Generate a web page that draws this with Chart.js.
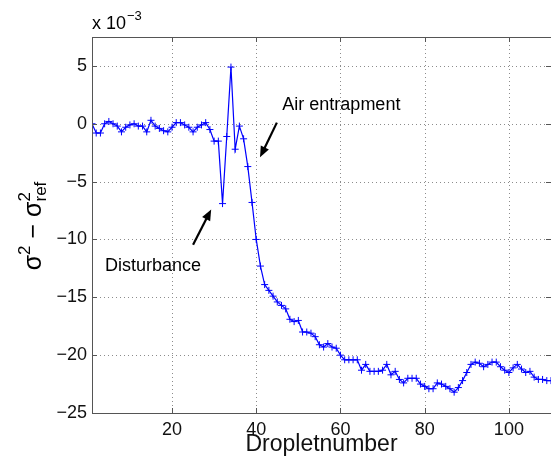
<!DOCTYPE html>
<html>
<head>
<meta charset="utf-8">
<script src="https://cdn.jsdelivr.net/npm/chart.js@4.4.1/dist/chart.umd.min.js"></script>
<style>
  html, body { margin: 0; padding: 0; background: #fff; overflow: hidden; }
  #wrap { width: 556px; height: 458px; }
</style>
</head>
<body>
<div id="wrap"><canvas id="chart" width="556" height="458"></canvas></div>
<script>
// droplet number 1..110, deviation in units of 1e-3
const dropletNumbers = [];
for (let i = 1; i <= 110; i++) dropletNumbers.push(i);

const sigmaDiff = [
    0, -0.8, -0.8, 0, 0.2, 0, -0.2, -0.7, -0.3, -0.1,
    0, -0.2, -0.2, -0.7, 0.3, -0.2, -0.4, -0.6, -0.7, -0.3,
    0.1, 0.1, -0.1, -0.3, -0.7, -0.3, -0.1, 0.1, -0.5, -1.5,
    -1.5, -6.9, -1.1, 4.9, -2.2, -0.2, -1.3, -3.7, -6.8, -10.0,
    -12.3, -13.9, -14.4, -14.9, -15.4, -15.7, -16.0, -16.9, -17.1, -17.0,
    -18.0, -18.0, -18.1, -18.4, -19.1, -19.3, -19.0, -19.3, -19.4, -20.0,
    -20.4, -20.4, -20.4, -20.4, -21.3, -20.8, -21.4, -21.4, -21.4, -21.3,
    -20.8, -21.7, -21.4, -22.1, -22.4, -22.0, -22.0, -22.0, -22.5, -22.7,
    -22.9, -22.9, -22.4, -22.5, -22.7, -22.9, -23.2, -22.8, -22.2, -21.5,
    -20.8, -20.6, -20.7, -21.0, -20.8, -20.6, -20.6, -21.0, -21.3, -21.5,
    -21.1, -20.8, -21.2, -21.5, -21.4, -21.9, -22.1, -22.1, -22.2, -22.2
];

const xTicks = [20, 40, 60, 80, 100];
const yTicks = [-25, -20, -15, -10, -5, 0, 5];

const FONT = '"Liberation Sans", Arial, sans-serif';

// arrow + label annotations, in data coordinates
const notes = [
    { text: 'Air entrapment', tx: 46.2, ty: 1.65, from: [44.9, 0.1], to: [40.9, -2.9] },
    { text: 'Disturbance', tx: 4.1, ty: -12.3, from: [25.0, -10.45], to: [29.3, -7.4] }
];

function drawArrow(c, x1, y1, x2, y2) {
    const ang = Math.atan2(y2 - y1, x2 - x1);
    const len = 11, wid = 4.5;
    c.beginPath();
    c.moveTo(x1, y1);
    c.lineTo(x2 - Math.cos(ang) * len * 0.8, y2 - Math.sin(ang) * len * 0.8);
    c.lineWidth = 2.2;
    c.strokeStyle = '#000';
    c.stroke();
    c.beginPath();
    c.moveTo(x2, y2);
    c.lineTo(x2 - Math.cos(ang) * len + Math.sin(ang) * wid, y2 - Math.sin(ang) * len - Math.cos(ang) * wid);
    c.lineTo(x2 - Math.cos(ang) * len - Math.sin(ang) * wid, y2 - Math.sin(ang) * len + Math.cos(ang) * wid);
    c.closePath();
    c.fillStyle = '#000';
    c.fill();
}

const decorPlugin = {
    id: 'decor',
    beforeDatasetsDraw(chart) {
        // dotted grid, drawn by hand so the dots come out clean
        const c = chart.ctx;
        const a = chart.chartArea;
        const xs = chart.scales.x, ys = chart.scales.y;
        c.save();
        c.strokeStyle = '#8c8c8c';
        c.lineWidth = 1;
        c.setLineDash([1, 3]);
        c.beginPath();
        xTicks.forEach(t => {
            const px = Math.round(xs.getPixelForValue(t)) + 0.5;
            c.moveTo(px, a.top); c.lineTo(px, a.bottom);
        });
        yTicks.forEach(t => {
            if (t === -25) return;
            const py = Math.round(ys.getPixelForValue(t)) + 0.5;
            c.moveTo(a.left, py); c.lineTo(a.right, py);
        });
        c.stroke();
        c.restore();
    },
    afterDatasetsDraw(chart) {
        const c = chart.ctx;
        const a = chart.chartArea;
        const xs = chart.scales.x, ys = chart.scales.y;
        c.save();

        // box + inward ticks (matlab style)
        c.strokeStyle = '#555';
        c.lineWidth = 1;
        c.strokeRect(a.left + 0.5, a.top + 0.5, a.right - a.left, a.bottom - a.top);
        c.beginPath();
        xTicks.forEach(t => {
            const px = Math.round(xs.getPixelForValue(t)) + 0.5;
            c.moveTo(px, a.bottom); c.lineTo(px, a.bottom - 5);
            c.moveTo(px, a.top); c.lineTo(px, a.top + 5);
        });
        yTicks.forEach(t => {
            const py = Math.round(ys.getPixelForValue(t)) + 0.5;
            c.moveTo(a.left, py); c.lineTo(a.left + 5, py);
            c.moveTo(a.right, py); c.lineTo(a.right - 5, py);
        });
        c.stroke();

        // annotations
        c.fillStyle = '#000';
        c.font = '18px ' + FONT;
        c.textBaseline = 'middle';
        c.textAlign = 'left';
        notes.forEach(n => {
            c.fillText(n.text, xs.getPixelForValue(n.tx), ys.getPixelForValue(n.ty));
            drawArrow(c,
                xs.getPixelForValue(n.from[0]), ys.getPixelForValue(n.from[1]),
                xs.getPixelForValue(n.to[0]), ys.getPixelForValue(n.to[1]));
        });

        // exponent label above the axis
        c.textBaseline = 'alphabetic';
        c.font = '18px ' + FONT;
        c.fillText('x 10', a.left, a.top - 8);
        const w = c.measureText('x 10').width;
        c.font = '13px ' + FONT;
        c.fillText('\u22123', a.left + w + 1, a.top - 17);

        // y axis title: sigma^2 - sigma^2_ref
        c.translate(41, 226);
        c.rotate(-Math.PI / 2);
        const big = '25px ' + FONT, small = '17px ' + FONT;
        const parts = [
            { t: '\u03c3', f: big, dy: 0 },
            { t: '2', f: small, dy: -11 },
            { t: ' \u2212 \u03c3', f: big, dy: 0 },
            { t: '2', f: small, dy: -11, keep: true },
            { t: 'ref', f: small, dy: 5 }
        ];
        let total = 0, widths = [];
        parts.forEach((p, i) => {
            c.font = p.f;
            widths[i] = c.measureText(p.t).width;
            if (!p.keep) total += widths[i];
        });
        let x = -total / 2;
        parts.forEach((p, i) => {
            c.font = p.f;
            c.fillText(p.t, x, p.dy);
            if (!p.keep) x += widths[i];
        });
        c.restore();
    }
};

const ctx = document.getElementById('chart').getContext('2d');
const chart = new Chart(ctx, {
    type: 'line',
    data: {
        labels: dropletNumbers,
        datasets: [{
            data: dropletNumbers.map((n, i) => ({ x: n, y: sigmaDiff[i] })),
            borderColor: '#0000ff',
            backgroundColor: '#0000ff',
            borderWidth: 1.2,
            pointStyle: 'cross',
            pointRadius: 3.5,
            pointBorderWidth: 1,
            pointBorderColor: '#0000ff',
            tension: 0
        }]
    },
    options: {
        responsive: false,
        animation: false,
        layout: { padding: { top: 37, right: 3.5, left: 0, bottom: 0 } },
        plugins: { legend: { display: false }, tooltip: { enabled: false } },
        scales: {
            x: {
                type: 'linear',
                min: 1,
                max: 110,
                afterBuildTicks: s => { s.ticks = xTicks.map(v => ({ value: v })); },
                afterFit: s => { s.height = 45; },
                grid: { display: false, drawTicks: false },
                border: { display: false },
                ticks: {
                    color: '#111',
                    padding: 6,
                    font: { family: FONT, size: 18 },
                    maxRotation: 0
                },
                title: {
                    display: true,
                    text: 'Dropletnumber',
                    color: '#111',
                    font: { family: FONT, size: 23 },
                    padding: { top: 0, bottom: 0 }
                }
            },
            y: {
                min: -25,
                max: 7.5,
                afterBuildTicks: s => { s.ticks = yTicks.map(v => ({ value: v })); },
                afterFit: s => { s.width = 92; },
                grid: { display: false, drawTicks: false },
                border: { display: false },
                ticks: {
                    color: '#111',
                    padding: 5,
                    font: { family: FONT, size: 18 },
                    callback: v => String(v).replace('-', '\u2212')
                }
            }
        }
    },
    plugins: [decorPlugin]
});
</script>
</body>
</html>
